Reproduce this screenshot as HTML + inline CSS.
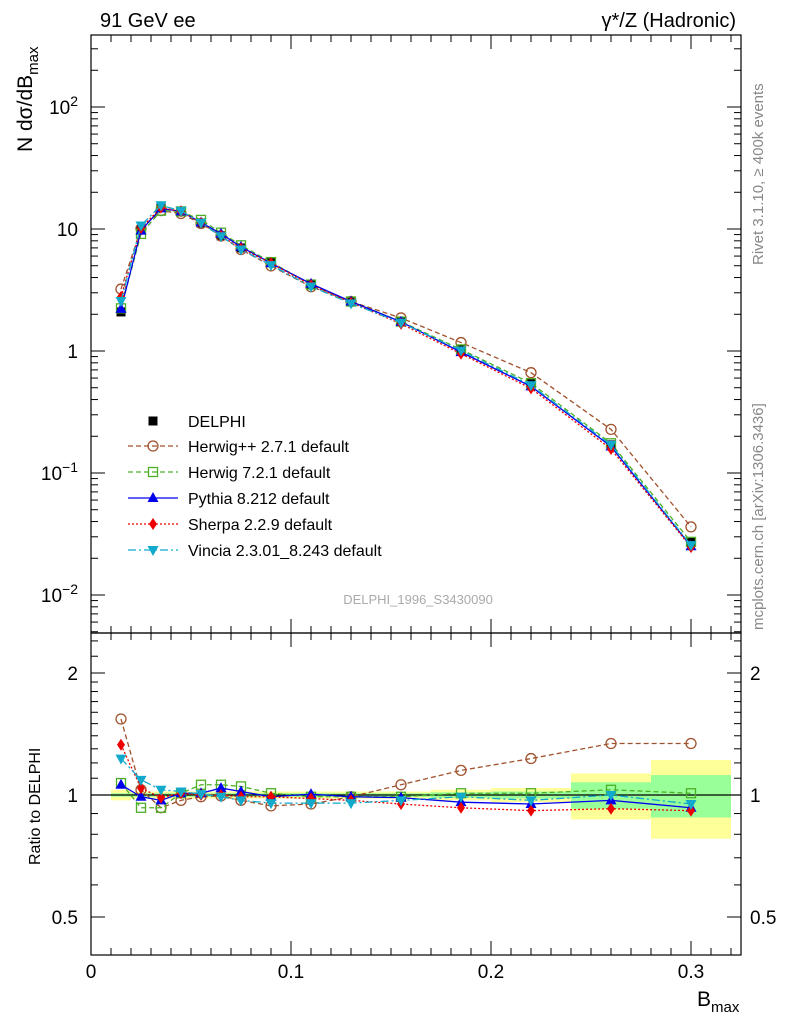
<!DOCTYPE html>
<html><head><meta charset="utf-8"><style>
body{margin:0;background:#fff}
svg{font-family:"Liberation Sans",sans-serif}
</style></head><body>
<svg id="c" width="786" height="1024" xmlns="http://www.w3.org/2000/svg"></svg>
<script>
const xs=[0.015,0.025,0.035,0.045,0.055,0.065,0.075,0.09,0.11,0.13,0.155,0.185,0.22,0.26,0.30];
const edges=[0.01,0.02,0.03,0.04,0.05,0.06,0.07,0.08,0.1,0.12,0.14,0.17,0.2,0.24,0.28,0.32];
const delphi=[2.09,9.8,15.2,13.8,11.2,8.8,7.0,5.3,3.54,2.57,1.76,1.02,0.54,0.17,0.027];
const errTot=[0.03,0.02,0.02,0.02,0.02,0.02,0.02,0.02,0.02,0.02,0.02,0.03,0.04,0.13,0.22];
const errStat=[0.01,0.01,0.01,0.01,0.01,0.01,0.01,0.01,0.01,0.01,0.01,0.015,0.02,0.075,0.12];
const rHpp=[1.54,1.03,0.93,0.97,0.99,0.995,0.97,0.94,0.95,0.99,1.06,1.15,1.23,1.34,1.34];
const rH7=[1.07,0.93,0.93,1.01,1.06,1.06,1.05,1.01,0.99,0.99,0.99,1.01,1.01,1.03,1.01];
const rPy=[1.06,0.99,0.97,1.01,1.01,1.04,1.02,0.99,1.005,0.99,0.985,0.96,0.95,0.97,0.93];
const rSh=[1.33,1.04,0.985,1.01,1.0,1.0,0.99,0.99,0.98,0.97,0.95,0.93,0.915,0.925,0.915];
const rVi=[1.23,1.09,1.03,1.02,1.005,0.99,0.97,0.955,0.955,0.955,0.97,0.99,0.97,1.0,0.95];
const xTicks=[0,0.1,0.2,0.3];
const svg=document.getElementById('c');const NS='http://www.w3.org/2000/svg';
function el(t,a,p){const e=document.createElementNS(NS,t);for(const k in a)e.setAttribute(k,a[k]);(p||svg).appendChild(e);return e;}
const X=v=>91+v*2000;
const Y=v=>351-122*Math.log10(v);
const R=v=>795-122*Math.log2(v);
for(let i=0;i<xs.length;i++){
 let r=el('rect',{x:X(edges[i]),y:R(1+errTot[i]),width:X(edges[i+1])-X(edges[i]),height:R(1-errTot[i])-R(1+errTot[i]),fill:'#ffff99'});
 
 let g=el('rect',{x:X(edges[i]),y:R(1+errStat[i]),width:X(edges[i+1])-X(edges[i]),height:R(1-errStat[i])-R(1+errStat[i]),fill:'#99ff99'});
 
}
el('line',{x1:91,x2:741,y1:795,y2:795,stroke:'#000','stroke-width':1.2});
let f1=el('rect',{x:91,y:35,width:650,height:598,fill:'none',stroke:'#000','stroke-width':1.2});

let f2=el('rect',{x:91,y:633,width:650,height:322,fill:'none',stroke:'#000','stroke-width':1.2});

for(let v=0;v<=0.3201;v+=0.01){const x=X(v);const maj=Math.abs(v*10-Math.round(v*10))<1e-6;const L=maj?14:7;
 [[633,-1],[955,-1],[35,1],[633,1]].forEach(([y,d])=>el('line',{x1:x,x2:x,y1:y,y2:y+d*L,stroke:'#000'}));}
xTicks.forEach(v=>{let t=el('text',{x:X(v),y:978,'font-size':19,'text-anchor':'middle'});t.textContent=v===0?'0':String(v);});
for(let d=-3;d<=2;d++){for(let m=1;m<10;m++){const v=m*Math.pow(10,d);const y=Y(v);if(y<35||y>633)continue;const L=m===1?14:7;
 el('line',{x1:91,x2:91+L,y1:y,y2:y,stroke:'#000'});el('line',{x1:741,x2:741-L,y1:y,y2:y,stroke:'#000'});}}
[['10',2,107],['10',null,229],['1',null,351],['10',-1,473],['10',-2,595]].forEach(([b,e,y])=>{
 let t=el('text',{x:78,y:y+7,'font-size':19,'text-anchor':'end'});
 t.textContent=b;if(e!==null){let s=el('tspan',{dy:-8,'font-size':14},t);s.textContent=e===2?'2':'\u2212'+(-e);}
});
[0.5,0.6,0.7,0.8,0.9,1,1.1,1.2,1.3,1.4,1.5,1.6,1.7,1.8,1.9,2,2.2,2.4].forEach(v=>{const y=R(v);const maj=[0.5,1,2].includes(v);const L=maj?14:7;
 el('line',{x1:91,x2:91+L,y1:y,y2:y,stroke:'#000'});el('line',{x1:741,x2:741-L,y1:y,y2:y,stroke:'#000'});});
[[2,'2'],[1,'1'],[0.5,'0.5']].forEach(([v,s])=>{let t=el('text',{x:78,y:R(v)+7,'font-size':19,'text-anchor':'end'});t.textContent=s;
 let t2=el('text',{x:750,y:R(v)+7,'font-size':19});t2.textContent=s;});
function marker(kind,x,y,c,g){
 if(kind==='sq')return el('rect',{x:x-4.5,y:y-4.5,width:9,height:9,fill:c},g);
 if(kind==='osq')return el('rect',{x:x-4.5,y:y-4.5,width:9,height:9,fill:'none',stroke:c,'stroke-width':1.3},g);
 if(kind==='oc')return el('circle',{cx:x,cy:y,r:5,fill:'none',stroke:c,'stroke-width':1.3},g);
 if(kind==='tri')return el('polygon',{points:`${x},${y-6} ${x-5.5},${y+4} ${x+5.5},${y+4}`,fill:c},g);
 if(kind==='dtri')return el('polygon',{points:`${x},${y+6} ${x-5.5},${y-4} ${x+5.5},${y-4}`,fill:c},g);
 if(kind==='dia')return el('polygon',{points:`${x},${y-6} ${x-4},${y} ${x},${y+6} ${x+4},${y}`,fill:c},g);}
const gd=el('g',{});
xs.forEach((x,i)=>marker('sq',X(x),Y(delphi[i]),'#000',gd));
const series=[
 {name:'herwigpp',r:rHpp,c:'#a0522d',dash:'5,3',m:'oc',lab:'Herwig++ 2.7.1 default'},
 {name:'herwig7',r:rH7,c:'#4daf26',dash:'5,3',m:'osq',lab:'Herwig 7.2.1 default'},
 {name:'pythia',r:rPy,c:'#0000ee',dash:'',m:'tri',lab:'Pythia 8.212 default'},
 {name:'sherpa',r:rSh,c:'#ee0000',dash:'2,2',m:'dia',lab:'Sherpa 2.2.9 default'},
 {name:'vincia',r:rVi,c:'#11aacc',dash:'8,3,2,3',m:'dtri',lab:'Vincia 2.3.01_8.243 default'}];
series.forEach(s=>{
 const g=el('g',{});
 const pm=xs.map((x,i)=>X(x)+','+Y(delphi[i]*s.r[i])).join(' ');
 el('polyline',{points:pm,fill:'none',stroke:s.c,'stroke-width':1.3,'stroke-dasharray':s.dash},g);
 const pr=xs.map((x,i)=>X(x)+','+R(s.r[i])).join(' ');
 el('polyline',{points:pr,fill:'none',stroke:s.c,'stroke-width':1.3,'stroke-dasharray':s.dash},g);
 xs.forEach((x,i)=>{marker(s.m,X(x),Y(delphi[i]*s.r[i]),s.c,g);marker(s.m,X(x),R(s.r[i]),s.c,g);});
});
const lg=el('g',{});
marker('sq',153,421,'#000',lg);let lt=el('text',{x:188,y:427,'font-size':16},lg);lt.textContent='DELPHI';
series.forEach((s,k)=>{const y=446+k*26;el('line',{x1:128,x2:178,y1:y,y2:y,stroke:s.c,'stroke-width':1.3,'stroke-dasharray':s.dash},lg);marker(s.m,153,y,s.c,lg);
 let t=el('text',{x:188,y:y+6,'font-size':16},lg);t.textContent=s.lab;});
function txt(x,y,s,a,name){let t=el('text',Object.assign({x,y},a));t.textContent=s;return t;}
txt(100,27,'91 GeV ee',{'font-size':20},'title-left');
txt(736,27,'\u03b3*/Z (Hadronic)',{'font-size':20,'text-anchor':'end'},'title-right');
txt(418,604,'DELPHI_1996_S3430090',{'font-size':13,fill:'#aaa','text-anchor':'middle'},'analysis-id');
let yt=txt(0,0,'N d\u03c3/dB',{'font-size':21,transform:'translate(32,152) rotate(-90)'},'y-axis-title');
let sb=el('tspan',{dy:6,'font-size':15},yt);sb.textContent='max';
txt(0,0,'Ratio to DELPHI',{'font-size':16,transform:'translate(40,865) rotate(-90)'},'ratio-axis-title');
let xt=txt(697,1006,'B',{'font-size':21},'x-axis-title');let xs2=el('tspan',{dy:6,'font-size':15},xt);xs2.textContent='max';
txt(0,0,'Rivet 3.1.10, \u2265 400k events',{'font-size':15,fill:'#888',transform:'translate(763,265) rotate(-90)'},'rivet-label');
txt(0,0,'mcplots.cern.ch [arXiv:1306.3436]',{'font-size':15,fill:'#888',transform:'translate(763,630) rotate(-90)'},'mcplots-label');
</script>
</body></html>
